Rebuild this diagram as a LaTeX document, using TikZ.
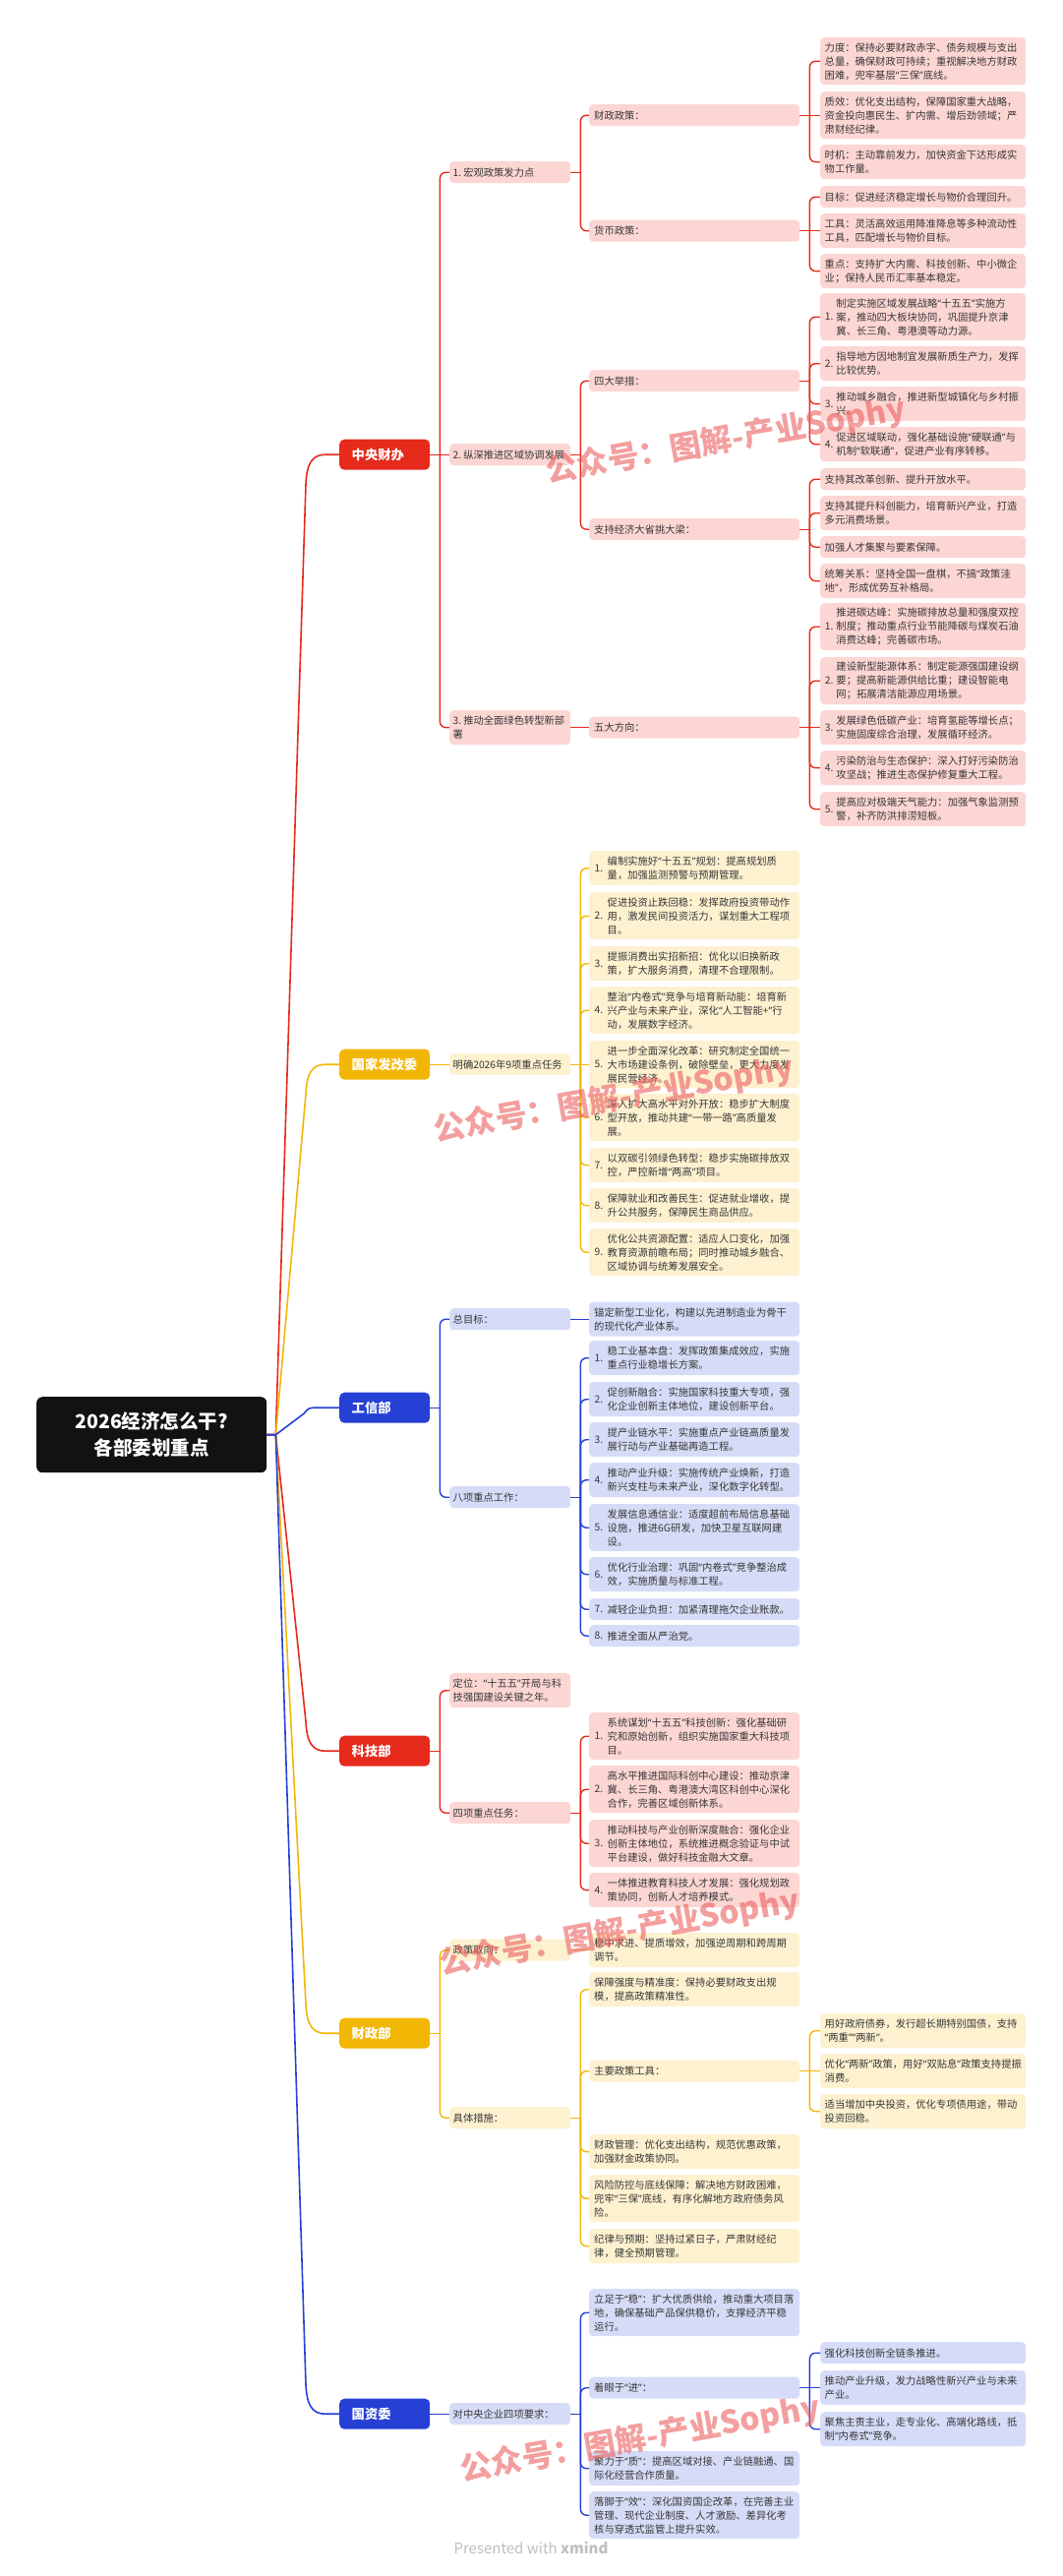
\documentclass[tikz,border=0pt]{standalone}
\usepackage{fontspec}
\setmainfont{Noto Sans CJK SC}
\newfontfamily\qfont{Noto Sans}
\newcommand{\myqo}{{\qfont “}}
\newcommand{\myqc}{{\qfont ”}}
\newcommand{\nthr}[2]{\parbox[c]{13pt}{#1}\parbox[c]{190pt}{\raggedright #2}}
\newcommand{\nfou}[2]{\parbox[c]{11.5pt}{#1}\parbox[c]{188pt}{\raggedright #2}}
\definecolor{cred}{RGB}{230,42,28}
\definecolor{cyel}{RGB}{242,183,5}
\definecolor{cblu}{RGB}{38,64,214}
\definecolor{fred}{RGB}{252,214,211}
\definecolor{fyel}{RGB}{253,241,208}
\definecolor{fblu}{RGB}{214,220,247}
\definecolor{txt}{RGB}{55,55,55}
\definecolor{wmc}{RGB}{235,95,95}
\tikzset{
 bx/.style={anchor=north west, rounded corners=4pt, inner ysep=1pt, font=\fontsize{10.3}{14}\selectfont, text=txt},
 tt/.style={bx, inner xsep=3.5pt, text width=116pt, align=left},
 tr/.style={bx, inner xsep=5pt, text width=204pt, align=left},
 tf/.style={bx, inner xsep=4.5pt, text width=200pt, align=left},
 nr/.style={bx, inner xsep=5pt, minimum width=214pt},
 nf/.style={bx, inner xsep=4.5pt, minimum width=209pt},
 lone/.style={minimum height=22pt}, ltwo/.style={minimum height=35pt}, lthree/.style={minimum height=48pt},
 fr/.style={fill=fred}, fy/.style={fill=fyel}, fb/.style={fill=fblu},
 dept/.style={anchor=north west, minimum width=92pt, minimum height=31pt, text width=67pt, inner xsep=12.5pt, inner ysep=0pt, rounded corners=5pt, text=white, font=\bfseries\fontsize{13.3}{16}\selectfont, align=left},
 rootbox/.style={anchor=north west, minimum width=234pt, minimum height=77pt, fill=black!93, rounded corners=6pt, text=white, font=\bfseries\fontsize{19.5}{27}\selectfont, align=center, inner sep=0pt},
 cr/.style={draw=cred, line width=1.4pt, rounded corners=6pt},
 cy/.style={draw=cyel, line width=1.4pt, rounded corners=6pt},
 cb/.style={draw=cblu, line width=1.4pt, rounded corners=6pt},
 rl/.style={line width=1.6pt},
 wm/.style={text=wmc, opacity=0.6, font=\bfseries\fontsize{32}{32}\selectfont, rotate=10}
}
\begin{document}
\begin{tikzpicture}[x=1pt,y=1pt]
\fill[white] (0,0) rectangle (1080,-2619);
\useasboundingbox (0,0) rectangle (1080,-2619);

% root and departments
\node[rootbox] (root) at (37,-1420) {2026经济怎么干?\\各部委划重点};
\node[dept, fill=cred] (zy) at (345,-446.5) {中央财办};
\node[dept, fill=cyel] (fg) at (345,-1066.5) {国家发改委};
\node[dept, fill=cblu] (gx) at (345,-1415.5) {工信部};
\node[dept, fill=cred] (kj) at (345,-1764.5) {科技部};
\node[dept, fill=cyel] (cz) at (345,-2051.5) {财政部};
\node[dept, fill=cblu] (gz) at (345,-2438.5) {国资委};

% ===== 中央财办 =====
\node[tt, fr, lone] (a1) at (457,-164) {\mbox{1.\hspace{2pt}宏观政策发力点}};
\node[tt, fr, lone] (a2) at (457,-451) {\mbox{2.\hspace{2pt}纵深推进区域协调发展}};
\node[tt, fr, ltwo] (a3) at (457,-722) {\mbox{3.\hspace{2pt}推动全面绿色转型新部}\\署};
\node[tr, fr, lone] (a11) at (599,-106) {财政政策：};
\node[tr, fr, lone] (a12) at (599,-223.5) {货币政策：};
\node[tr, fr, lone] (a21) at (599,-376) {四大举措：};
\node[tr, fr, lone] (a22) at (599,-527) {支持经济大省挑大梁：};
\node[tr, fr, lone] (a31) at (599,-728.5) {五大方向：};

\node[tf, fr, lthree] (q11) at (834,-38) {力度：保持必要财政赤字、债务规模与支出\\总量，确保财政可持续；重视解决地方财政\\困难，兜牢基层\myqo{}三保\myqc{}底线。};
\node[tf, fr, lthree] (q12) at (834,-93) {质效：优化支出结构，保障国家重大战略，\\资金投向惠民生、扩内需、增后劲领域；严\\肃财经纪律。};
\node[tf, fr, ltwo] (q13) at (834,-147) {时机：主动靠前发力，加快资金下达形成实\\物工作量。};
\node[tf, fr, lone] (q21) at (834,-189) {目标：促进经济稳定增长与物价合理回升。};
\node[tf, fr, ltwo] (q22) at (834,-217) {工具：灵活高效运用降准降息等多种流动性\\工具，匹配增长与物价目标。};
\node[tf, fr, ltwo] (q23) at (834,-258) {重点：支持扩大内需、科技创新、中小微企\\业；保持人民币汇率基本稳定。};
\node[nf, fr, lthree] (w1) at (834,-298) {\nfou{1.}{制定实施区域发展战略\myqo{}十五五\myqc{}实施方\\案，推动四大板块协同，巩固提升京津\\冀、长三角、粤港澳等动力源。}};
\node[nf, fr, ltwo] (w2) at (834,-352) {\nfou{2.}{指导地方因地制宜发展新质生产力，发挥\\比较优势。}};
\node[nf, fr, ltwo] (w3) at (834,-393) {\nfou{3.}{推动城乡融合，推进新型城镇化与乡村振\\兴。}};
\node[nf, fr, ltwo] (w4) at (834,-434) {\nfou{4.}{促进区域联动，强化基础设施\myqo{}硬联通\myqc{}与\\机制\myqo{}软联通\myqc{}，促进产业有序转移。}};
\node[tf, fr, lone] (s1) at (834,-476) {支持其改革创新、提升开放水平。};
\node[tf, fr, ltwo] (s2) at (834,-504) {支持其提升科创能力，培育新兴产业，打造\\多元消费场景。};
\node[tf, fr, lone] (s3) at (834,-545) {加强人才集聚与要素保障。};
\node[tf, fr, ltwo] (s4) at (834,-573) {统筹关系：坚持全国一盘棋，不搞\myqo{}政策洼\\地\myqc{}，形成优势互补格局。};
\node[nf, fr, lthree] (v1) at (834,-613) {\nfou{1.}{推进碳达峰：实施碳排放总量和强度双控\\制度；推动重点行业节能降碳与煤炭石油\\消费达峰；完善碳市场。}};
\node[nf, fr, lthree] (v2) at (834,-668) {\nfou{2.}{建设新型能源体系：制定能源强国建设纲\\要；提高新能源供给比重；建设智能电\\网；拓展清洁能源应用场景。}};
\node[nf, fr, ltwo] (v3) at (834,-722) {\nfou{3.}{发展绿色低碳产业：培育氢能等增长点；\\实施固废综合治理，发展循环经济。}};
\node[nf, fr, ltwo] (v4) at (834,-763) {\nfou{4.}{污染防治与生态保护：深入打好污染防治\\攻坚战；推进生态保护修复重大工程。}};
\node[nf, fr, ltwo] (v5) at (834,-805) {\nfou{5.}{提高应对极端天气能力：加强气象监测预\\警，补齐防洪排涝短板。}};

% ===== 国家发改委 =====
\node[tt, fy, lone] (b1) at (457,-1071) {\mbox{明确2026年9项重点任务}};
\node[nr, fy, ltwo] (b11) at (599,-865) {\nthr{1.}{编制实施好\myqo{}十五五\myqc{}规划：提高规划质\\量，加强监测预警与预期管理。}};
\node[nr, fy, lthree] (b12) at (599,-907) {\nthr{2.}{促进投资止跌回稳：发挥政府投资带动作\\用，激发民间投资活力，谋划重大工程项\\目。}};
\node[nr, fy, ltwo] (b13) at (599,-962) {\nthr{3.}{提振消费出实招新招：优化以旧换新政\\策，扩大服务消费，清理不合理限制。}};
\node[nr, fy, lthree] (b14) at (599,-1003) {\nthr{4.}{整治\myqo{}内卷式\myqc{}竞争与培育新动能：培育新\\兴产业与未来产业，深化\myqo{}人工智能+\myqc{}行\\动，发展数字经济。}};
\node[nr, fy, lthree] (b15) at (599,-1058) {\nthr{5.}{进一步全面深化改革：研究制定全国统一\\大市场建设条例，破除壁垒，更大力度发\\展民营经济。}};
\node[nr, fy, lthree] (b16) at (599,-1112) {\nthr{6.}{深入扩大高水平对外开放：稳步扩大制度\\型开放，推动共建\myqo{}一带一路\myqc{}高质量发\\展。}};
\node[nr, fy, ltwo] (b17) at (599,-1167) {\nthr{7.}{以双碳引领绿色转型：稳步实施碳排放双\\控，严控新增\myqo{}两高\myqc{}项目。}};
\node[nr, fy, ltwo] (b18) at (599,-1208) {\nthr{8.}{保障就业和改善民生：促进就业增收，提\\升公共服务，保障民生商品供应。}};
\node[nr, fy, lthree] (b19) at (599,-1249) {\nthr{9.}{优化公共资源配置：适应人口变化，加强\\教育资源前瞻布局；同时推动城乡融合、\\区域协调与统筹发展安全。}};

% ===== 工信部 =====
\node[tt, fb, lone] (c1) at (457,-1330) {总目标：};
\node[tt, fb, lone] (c2) at (457,-1511) {八项重点工作：};
\node[tr, fb, ltwo] (c11) at (599,-1323.5) {锚定新型工业化，构建以先进制造业为骨干\\的现代化产业体系。};
\node[nr, fb, ltwo] (c21) at (599,-1363) {\nthr{1.}{稳工业基本盘：发挥政策集成效应，实施\\重点行业稳增长方案。}};
\node[nr, fb, ltwo] (c22) at (599,-1405) {\nthr{2.}{促创新融合：实施国家科技重大专项，强\\化企业创新主体地位，建设创新平台。}};
\node[nr, fb, ltwo] (c23) at (599,-1446) {\nthr{3.}{提产业链水平：实施重点产业链高质量发\\展行动与产业基础再造工程。}};
\node[nr, fb, ltwo] (c24) at (599,-1487) {\nthr{4.}{推动产业升级：实施传统产业焕新，打造\\新兴支柱与未来产业，深化数字化转型。}};
\node[nr, fb, lthree] (c25) at (599,-1529) {\nthr{5.}{发展信息通信业：适度超前布局信息基础\\设施，推进6G研发，加快卫星互联网建\\设。}};
\node[nr, fb, ltwo] (c26) at (599,-1583) {\nthr{6.}{优化行业治理：巩固\myqo{}内卷式\myqc{}竞争整治成\\效，实施质量与标准工程。}};
\node[nr, fb, lone] (c27) at (599,-1625) {\nthr{7.}{减轻企业负担：加紧清理拖欠企业账款。}};
\node[nr, fb, lone] (c28) at (599,-1652) {\nthr{8.}{推进全面从严治党。}};

% ===== 科技部 =====
\node[tt, fr, ltwo] (d1) at (457,-1701) {定位：\myqo{}十五五\myqc{}开局与科\\技强国建设关键之年。};
\node[tt, fr, lone] (d2) at (457,-1832) {四项重点任务：};
\node[nr, fr, lthree] (d21) at (599,-1741) {\nthr{1.}{系统谋划\myqo{}十五五\myqc{}科技创新：强化基础研\\究和原始创新，组织实施国家重大科技项\\目。}};
\node[nr, fr, lthree] (d22) at (599,-1795) {\nthr{2.}{高水平推进国际科创中心建设：推动京津\\冀、长三角、粤港澳大湾区科创中心深化\\合作，完善区域创新体系。}};
\node[nr, fr, lthree] (d23) at (599,-1850) {\nthr{3.}{推动科技与产业创新深度融合：强化企业\\创新主体地位，系统推进概念验证与中试\\平台建设，做好科技金融大文章。}};
\node[nr, fr, ltwo] (d24) at (599,-1904) {\nthr{4.}{一体推进教育科技人才发展：强化规划政\\策协同，创新人才培养模式。}};

% ===== 财政部 =====
\node[tt, fy, lone] (e1) at (457,-1971.5) {政策取向：};
\node[tt, fy, lone] (e2) at (457,-2142) {具体措施：};
\node[tr, fy, ltwo] (e11) at (599,-1965) {稳中求进、提质增效，加强逆周期和跨周期\\调节。};
\node[tr, fy, ltwo] (e21) at (599,-2005) {保障强度与精准度：保持必要财政支出规\\模，提高政策精准性。};
\node[tr, fy, lone] (e22) at (599,-2094.5) {主要政策工具：};
\node[tr, fy, ltwo] (e23) at (599,-2170) {财政管理：优化支出结构，规范优惠政策，\\加强财金政策协同。};
\node[tr, fy, lthree] (e24) at (599,-2211) {风险防控与底线保障：解决地方财政困难，\\兜牢\myqo{}三保\myqc{}底线，有序化解地方政府债务风\\险。};
\node[tr, fy, ltwo] (e25) at (599,-2266) {纪律与预期：坚持过紧日子，严肃财经纪\\律，健全预期管理。};
\node[tf, fy, ltwo] (e221) at (834,-2047) {用好政府债券，发行超长期特别国债，支持\\\myqo{}两重\myqc{}\myqo{}两新\myqc{}。};
\node[tf, fy, ltwo] (e222) at (834,-2088) {优化\myqo{}两新\myqc{}政策，用好\myqo{}双贴息\myqc{}政策支持提振\\消费。};
\node[tf, fy, ltwo] (e223) at (834,-2129) {适当增加中央投资，优化专项债用途，带动\\投资回稳。};

% ===== 国资委 =====
\node[tt, fb, lone] (f1) at (457,-2443) {\mbox{对中央企业四项要求：}};
\node[tr, fb, lthree] (f11) at (599,-2327) {立足于\myqo{}稳\myqc{}：扩大优质供给，推动重大项目落\\地，确保基础产品保供稳价，支撑经济平稳\\运行。};
\node[tr, fb, lone] (f12) at (599,-2416.5) {着眼于\myqo{}进\myqc{}：};
\node[tr, fb, ltwo] (f13) at (599,-2492) {聚力于\myqo{}质\myqc{}：提高区域对接、产业链融通、国\\际化经营合作质量。};
\node[tr, fb, lthree] (f14) at (599,-2533) {落脚于\myqo{}效\myqc{}：深化国资国企改革，在完善主业\\管理、现代企业制度、人才激励、差异化考\\核与穿透式监管上提升实效。};
\node[tf, fb, lone] (f121) at (834,-2381) {强化科技创新全链条推进。};
\node[tf, fb, ltwo] (f122) at (834,-2410) {推动产业升级，发力战略性新兴产业与未来\\产业。};
\node[tf, fb, ltwo] (f123) at (834,-2452) {聚焦主责主业，走专业化、高端化路线，抵\\制\myqo{}内卷式\myqc{}竞争。};

% ===== root connectors =====
\draw[rl, cred] (root.east) -- ++(9,0) -- ([shift={(-34,-30)}]zy.west) .. controls ([shift={(-33,-8)}]zy.west) and ([shift={(-27,0)}]zy.west) .. ([xshift=-14]zy.west) -- (zy.west);
\draw[rl, cyel] (root.east) -- ++(9,0) -- ([shift={(-34,-30)}]fg.west) .. controls ([shift={(-33,-8)}]fg.west) and ([shift={(-27,0)}]fg.west) .. ([xshift=-14]fg.west) -- (fg.west);
\draw[rl, cred] (root.east) -- ++(9,0) -- ([shift={(-34,30)}]kj.west) .. controls ([shift={(-33,8)}]kj.west) and ([shift={(-27,0)}]kj.west) .. ([xshift=-14]kj.west) -- (kj.west);
\draw[rl, cyel] (root.east) -- ++(9,0) -- ([shift={(-34,30)}]cz.west) .. controls ([shift={(-33,8)}]cz.west) and ([shift={(-27,0)}]cz.west) .. ([xshift=-14]cz.west) -- (cz.west);
\draw[rl, cblu] (root.east) -- ++(9,0) -- ([shift={(-34,30)}]gz.west) .. controls ([shift={(-33,8)}]gz.west) and ([shift={(-27,0)}]gz.west) .. ([xshift=-14]gz.west) -- (gz.west);
\draw[rl, cblu] (root.east) -- ++(9,0) -- ([shift={(-36,-6)}]gx.west) .. controls ([shift={(-31,0)}]gx.west) .. ([xshift=-22]gx.west) -- (gx.west);

% ===== tree connectors =====
% 中央财办
\draw[cr] (zy.east) -- (a2.west);
\foreach \c in {a1,a3} \draw[cr] ([xshift=10pt]zy.east) |- (\c.west);
\draw[cr] (a1.east) -- ([xshift=10pt]a1.east);
\foreach \c in {a11,a12} \draw[cr] ([xshift=10pt]a1.east) |- (\c.west);
\draw[cr] (a2.east) -- ([xshift=10pt]a2.east);
\foreach \c in {a21,a22} \draw[cr] ([xshift=10pt]a2.east) |- (\c.west);
\draw[cr] (a3.east) -- (a31.west);
\draw[cr] (a11.east) -- (q12.west);
\foreach \c in {q11,q13} \draw[cr] ([xshift=10pt]a11.east) |- (\c.west);
\draw[cr] (a12.east) -- (q22.west);
\foreach \c in {q21,q23} \draw[cr] ([xshift=10pt]a12.east) |- (\c.west);
\draw[cr] (a21.east) -- ([xshift=10pt]a21.east);
\foreach \c in {w1,w2,w3,w4} \draw[cr] ([xshift=10pt]a21.east) |- (\c.west);
\draw[cr] (a22.east) -- ([xshift=10pt]a22.east);
\foreach \c in {s1,s2,s3,s4} \draw[cr] ([xshift=10pt]a22.east) |- (\c.west);
\draw[cr] (a31.east) -- (v3.west);
\foreach \c in {v1,v2,v4,v5} \draw[cr] ([xshift=10pt]a31.east) |- (\c.west);
% 国家发改委
\draw[cy] (fg.east) -- (b1.west);
\draw[cy] (b1.east) -- (b15.west);
\foreach \c in {b11,b12,b13,b14,b16,b17,b18,b19} \draw[cy] ([xshift=10pt]b1.east) |- (\c.west);
% 工信部
\draw[cb] (gx.east) -- ([xshift=10pt]gx.east);
\foreach \c in {c1,c2} \draw[cb] ([xshift=10pt]gx.east) |- (\c.west);
\draw[cb] (c1.east) -- (c11.west);
\draw[cb] (c2.east) -- ([xshift=10pt]c2.east);
\foreach \c in {c21,c22,c23,c24,c25,c26,c27,c28} \draw[cb] ([xshift=10pt]c2.east) |- (\c.west);
% 科技部
\draw[cr] (kj.east) -- ([xshift=10pt]kj.east);
\foreach \c in {d1,d2} \draw[cr] ([xshift=10pt]kj.east) |- (\c.west);
\draw[cr] (d2.east) -- ([xshift=10pt]d2.east);
\foreach \c in {d21,d22,d23,d24} \draw[cr] ([xshift=10pt]d2.east) |- (\c.west);
% 财政部
\draw[cy] (cz.east) -- ([xshift=10pt]cz.east);
\foreach \c in {e1,e2} \draw[cy] ([xshift=10pt]cz.east) |- (\c.west);
\draw[cy] (e1.east) -- (e11.west);
\draw[cy] (e2.east) -- ([xshift=10pt]e2.east);
\foreach \c in {e21,e22,e23,e24,e25} \draw[cy] ([xshift=10pt]e2.east) |- (\c.west);
\draw[cy] (e22.east) -- (e222.west);
\foreach \c in {e221,e223} \draw[cy] ([xshift=10pt]e22.east) |- (\c.west);
% 国资委
\draw[cb] (gz.east) -- (f1.west);
\draw[cb] (f1.east) -- ([xshift=10pt]f1.east);
\foreach \c in {f11,f12,f13,f14} \draw[cb] ([xshift=10pt]f1.east) |- (\c.west);
\draw[cb] (f12.east) -- (f122.west);
\foreach \c in {f121,f123} \draw[cb] ([xshift=10pt]f12.east) |- (\c.west);

% footer
\node[font=\fontsize{15}{15}\selectfont, text=black!25] (pw) at (540,-2590) {Presented with \textbf{xmind}};

% watermarks
\node[wm] (wm1) at (738,-448) {公众号：图解-产业Sophy};
\node[wm] (wm2) at (624,-1118) {公众号：图解-产业Sophy};
\node[wm] (wm3) at (630,-1965) {公众号：图解-产业Sophy};
\node[wm] (wm4) at (651,-2480) {公众号：图解-产业Sophy};
\end{tikzpicture}
\end{document}
